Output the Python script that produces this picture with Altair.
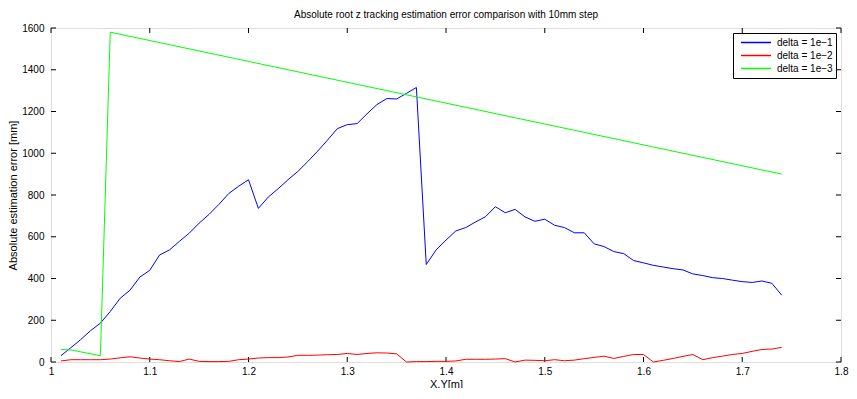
import altair as alt
import pandas as pd

# ---- data ----
x_grid = [round(1 + i / 100, 2) for i in range(1, 75)]  # 1.01 .. 1.74, 10mm step

blue_vals = [30, 68, 107, 150, 186, 242, 305, 344, 407, 439,
             513, 537, 578, 617, 665, 707, 755, 807, 842, 873,
             736, 790, 830, 873, 913, 960, 1010, 1063, 1118, 1137,
             1142, 1189, 1233, 1262, 1260, 1287, 1315, 467, 537, 584,
             628, 644, 671, 696, 744, 715, 731, 695, 674, 684,
             655, 644, 619, 619, 566, 553, 529, 519, 486, 475,
             463, 455, 447, 441, 422, 414, 404, 400, 392, 385,
             381, 388, 377, 320]

red_vals = [5, 11, 11, 11, 11, 14, 20, 25, 19, 14,
            11, 6, 2, 14, 3, 2, 2, 3, 11, 14,
            19, 21, 21, 24, 32, 32, 33, 35, 36, 41,
            36, 41, 44, 43, 39, 0, 2, 2, 3, 3,
            5, 13, 13, 13, 14, 16, 0, 9, 8, 6,
            11, 6, 9, 16, 22, 28, 17, 27, 36, 36,
            0, 8, 17, 27, 36, 11, 21, 28, 36, 41,
            51, 60, 62, 70]

green_x = [1.01, 1.02, 1.05, 1.06, 1.74]
green_vals = [60, 58, 30, 1580, 900]

series_names = ["delta = 1e\u22121", "delta = 1e\u22122", "delta = 1e\u22123"]
series_colors = ["#0000ff", "#ff0000", "#00ff00"]

x_ticks = [1, 1.1, 1.2, 1.3, 1.4, 1.5, 1.6, 1.7, 1.8]
y_ticks = [0, 200, 400, 600, 800, 1000, 1200, 1400, 1600]

# ---- tables ----
rows = []
for xv, yv in zip(x_grid, blue_vals):
    rows.append({"x": xv, "y": yv, "series": series_names[0], "o": 0})
for xv, yv in zip(x_grid, red_vals):
    rows.append({"x": xv, "y": yv, "series": series_names[1], "o": 1})
for xv, yv in zip(green_x, green_vals):
    rows.append({"x": xv, "y": yv, "series": series_names[2], "o": 2})
df = pd.DataFrame(rows)

xt = pd.DataFrame({"t": x_ticks})
yt = pd.DataFrame({"t": y_ticks})

W, H = 790, 334
FONT = "Liberation Sans"

xscale = alt.Scale(domain=[1, 1.8], nice=False, zero=False)
yscale = alt.Scale(domain=[0, 1600], nice=False)

lines = alt.Chart(df).mark_line(strokeWidth=1).encode(
    x=alt.X("x:Q", scale=xscale,
            axis=alt.Axis(values=x_ticks, format="~g", title="X,Y[m]",
                          tickSize=0, domain=False, grid=False,
                          labelFlush=False,
                          labelPadding=4, titlePadding=2,
                          titleFontWeight="normal")),
    y=alt.Y("y:Q", scale=yscale,
            axis=alt.Axis(values=y_ticks, format="d",
                          title="Absolute estimation error [mm]",
                          tickSize=0, domain=False, grid=False,
                          labelFlush=False,
                          labelPadding=7, titlePadding=3,
                          titleFontWeight="normal")),
    color=alt.Color("series:N",
                    scale=alt.Scale(domain=series_names, range=series_colors),
                    legend=alt.Legend(title=None, orient="top-right",
                                      symbolType="stroke", symbolSize=900,
                                      symbolStrokeWidth=1.5,
                                      strokeColor="black", fillColor="white",
                                      padding=3, offset=5, labelFontSize=10,
                                      labelFont=FONT, labelColor="black",
                                      clipHeight=13, rowPadding=0,
                                      labelOffset=5, symbolOffset=4)),
    order="x:Q",
    detail="o:N",
)

tick_b = alt.Chart(xt).mark_rule(color="black", strokeWidth=1).encode(
    x=alt.X("t:Q", scale=xscale), y=alt.value(H), y2=alt.value(H - 5))
tick_t = alt.Chart(xt).mark_rule(color="black", strokeWidth=1).encode(
    x=alt.X("t:Q", scale=xscale), y=alt.value(0), y2=alt.value(5))
tick_l = alt.Chart(yt).mark_rule(color="black", strokeWidth=1).encode(
    y=alt.Y("t:Q", scale=yscale), x=alt.value(0), x2=alt.value(5))
tick_r = alt.Chart(yt).mark_rule(color="black", strokeWidth=1).encode(
    y=alt.Y("t:Q", scale=yscale), x=alt.value(W - 5), x2=alt.value(W))

chart = alt.layer(tick_b, tick_t, tick_l, tick_r, lines).properties(
    width=W, height=H,
    title=alt.TitleParams("Absolute root z tracking estimation error comparison with 10mm step",
                          fontSize=10, fontWeight="normal", font=FONT,
                          anchor="middle", frame="group", offset=3, color="black"),
    autosize=alt.AutoSizeParams(type="none"),
    padding={"left": 43, "top": 20, "right": 8, "bottom": 26},
).configure_view(
    stroke="black", strokeWidth=1
).configure_axis(
    labelFont=FONT, labelFontSize=10, labelColor="black",
    titleFont=FONT, titleFontSize=10, titleFontWeight="normal", titleColor="black",
).configure(background="white")

chart.save("out.html", embed_options={"renderer": "svg", "actions": False})
